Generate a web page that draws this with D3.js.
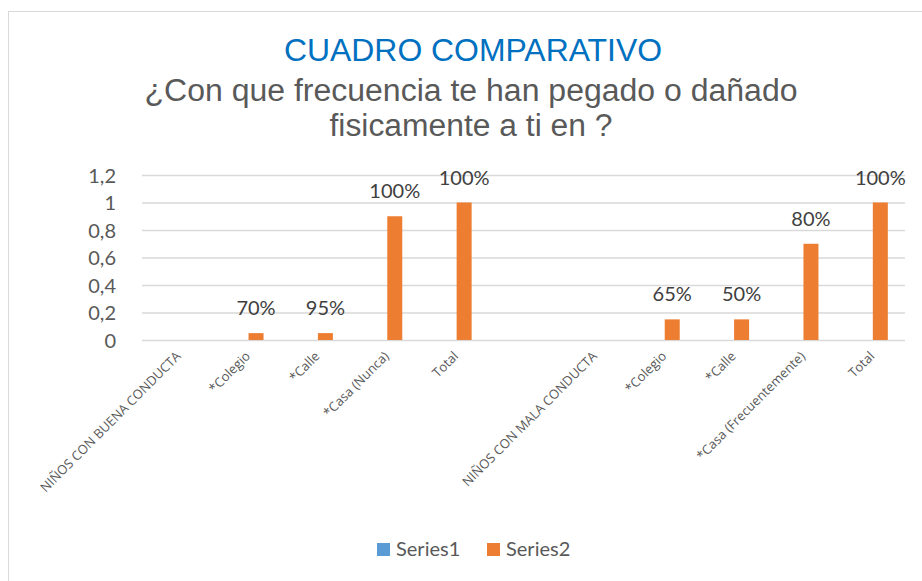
<!DOCTYPE html>
<html>
<head>
<meta charset="utf-8">
<script src="https://cdn.jsdelivr.net/npm/d3@7"></script>
<style>
  body { margin: 0; background: #fff; }
  svg { display: block; }
</style>
</head>
<body>
<svg id="drawing_region" width="922" height="581"></svg>
<script>
// datos
const categories = ["NIÑOS CON BUENA CONDUCTA", "*Colegio", "*Calle", "*Casa (Nunca)", "Total", "",
                    "NIÑOS CON MALA CONDUCTA", "*Colegio", "*Calle", "*Casa (Frecuentemente)", "Total"];
const series1 = [null, null, null, null, null, null, null, null, null, null, null];
const series2 = [null, 0.05, 0.05, 0.9, 1, null, null, 0.15, 0.15, 0.7, 1];
const labels2 = ["", "70%", "95%", "100%", "100%", "", "", "65%", "50%", "80%", "100%"];
const seriesNames = ["Series1", "Series2"];
const colors = ["#5B9BD5", "#ED7D31"];
const yTicks = [0, 0.2, 0.4, 0.6, 0.8, 1, 1.2];

const svg = d3.select('#drawing_region');
const margin = {top: 175, left: 142, right: 17, bottom: 241};
const width = 922 - margin.left - margin.right;
const height = 581 - margin.top - margin.bottom;

// marco
svg.append("rect")
    .attr("x", 8.5).attr("y", 11.5)
    .attr("width", 930).attr("height", 600)
    .attr("fill", "#fff")
    .attr("stroke", "#d9d9d9");

// titulos
svg.append("text")
    .attr("x", 473).attr("y", 61)
    .attr("text-anchor", "middle")
    .attr("font-family", "Liberation Sans, Arial, sans-serif")
    .attr("font-size", 32)
    .attr("fill", "#0070C0")
    .attr("textLength", 378).attr("lengthAdjust", "spacingAndGlyphs")
    .text("CUADRO COMPARATIVO");

const sub = [
    {t: "¿Con que frecuencia te han pegado o dañado", y: 101, w: 653},
    {t: "fisicamente a ti en ?", y: 136, w: 283}
];
svg.selectAll(".sub")
    .data(sub)
    .join("text")
    .attr("class", "sub")
    .attr("x", 471).attr("y", d => d.y)
    .attr("text-anchor", "middle")
    .attr("font-family", "Liberation Sans, Arial, sans-serif")
    .attr("font-size", 31)
    .attr("fill", "#595959")
    .attr("textLength", d => d.w).attr("lengthAdjust", "spacingAndGlyphs")
    .text(d => d.t);

const chart = svg.append("g")
    .attr("transform", `translate(${margin.left},${margin.top})`);

const yscale = d3.scaleLinear().domain([0, 1.2]).range([height, 0]);
const xscale = d3.scaleBand().domain(d3.range(categories.length)).range([0, width]);
const x1 = d3.scaleBand().domain([0, 1])
    .range([xscale.bandwidth() / 2 - 17.5, xscale.bandwidth() / 2 + 17.5])
    .paddingInner(0.25);

// lineas de division
chart.append("g")
    .call(d3.axisLeft(yscale).tickValues(yTicks).tickSize(-width).tickFormat(""))
    .call(g => g.select(".domain").remove())
    .call(g => g.selectAll("line").attr("stroke", "#d9d9d9").attr("stroke-width", 1.3));

// eje y
chart.append("g")
    .attr("transform", "translate(-23,0)")
    .call(d3.axisLeft(yscale).tickValues(yTicks).tickSize(0)
        .tickFormat(d => d3.format(".1~f")(d).replace(".", ",")))
    .call(g => g.select(".domain").remove())
    .call(g => g.selectAll("text")
        .attr("font-family", "Lato, sans-serif")
        .attr("font-size", 20)
        .attr("fill", "#595959")
        .attr("dy", "0.35em"));

// eje x
chart.append("g")
    .attr("transform", `translate(0,${height})`)
    .call(d3.axisBottom(xscale).tickSize(0).tickFormat(i => categories[i]))
    .call(g => g.select(".domain").remove())
    .call(g => g.selectAll("text")
        .attr("font-family", "Open Sans, sans-serif")
        .attr("font-size", 13)
        .attr("fill", "#595959")
        .attr("text-anchor", "end")
        .attr("dy", null)
        .attr("y", 0)
        .attr("transform", "translate(5,17) rotate(-45)"));

// barras
const allSeries = [series1, series2];
allSeries.forEach((values, s) => {
    chart.append("g")
        .selectAll("rect")
        .data(values.map((v, i) => ({i, v})).filter(d => d.v != null))
        .join("rect")
        .attr("x", d => xscale(d.i) + x1(s))
        .attr("y", d => yscale(d.v))
        .attr("width", x1.bandwidth())
        .attr("height", d => height - yscale(d.v))
        .attr("fill", colors[s]);
});

// etiquetas de datos
chart.append("g")
    .selectAll("text")
    .data(series2.map((v, i) => ({i, v, l: labels2[i]})).filter(d => d.v != null))
    .join("text")
    .attr("x", d => xscale(d.i) + x1(1) + x1.bandwidth() / 2)
    .attr("y", d => yscale(d.v) - 18)
    .attr("text-anchor", "middle")
    .attr("font-family", "Lato, sans-serif")
    .attr("font-size", 20)
    .attr("fill", "#404040")
    .text(d => d.l);

// leyenda
const legend = svg.append("g").attr("transform", "translate(377,543)");
const items = legend.selectAll("g")
    .data(seriesNames)
    .join("g")
    .attr("transform", (d, i) => `translate(${i * 110},0)`);
items.append("rect")
    .attr("width", 13).attr("height", 13)
    .attr("fill", (d, i) => colors[i]);
items.append("text")
    .attr("x", 19).attr("y", 13)
    .attr("font-family", "Lato, sans-serif")
    .attr("font-size", 20)
    .attr("fill", "#595959")
    .text(d => d);
</script>
</body>
</html>
